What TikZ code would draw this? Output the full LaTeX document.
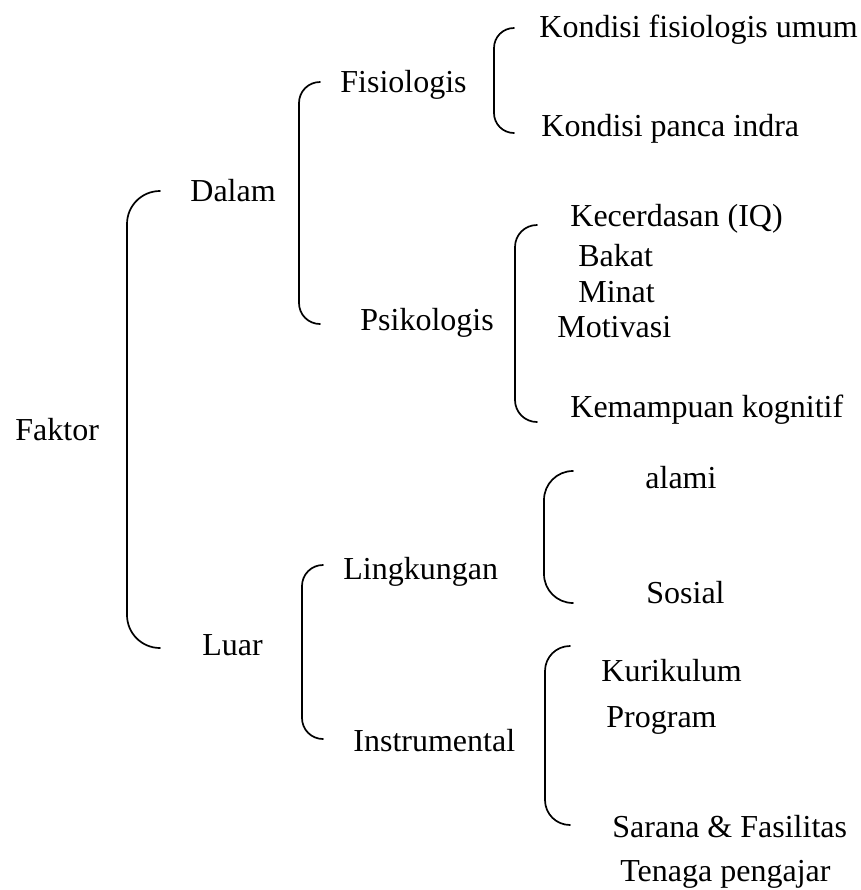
\documentclass[tikz,border=0pt]{standalone}
\usepackage{fontspec}
\setmainfont{Liberation Serif}

\tikzset{
  teks/.style={anchor=base west, inner sep=0pt, font=\fontsize{16}{19}\selectfont},
  kurung/.style={line width=0.85pt, line cap=round}
}
% bracket: x of line, y of top tip, y of bottom tip, x of tips
\newcommand{\kurung}[4]{%
  \draw[kurung] (#4,-#2) to[out=180,in=90] ({#1},{-#2-(#4-#1)}) -- ({#1},{-#3+(#4-#1)}) to[out=-90,in=180] (#4,-#3);}

\begin{document}
\begin{tikzpicture}[x=0.5pt, y=0.5pt]
\useasboundingbox (0,0) rectangle (861,-890);
\node[teks] (faktor) at (15,-440) {Faktor};
\node[teks] (dalam) at (190,-201) {Dalam};
\node[teks] (luar) at (202,-655) {Luar};
\node[teks] (fisio) at (340,-92) {Fisiologis};
\node[teks] (psiko) at (360,-330) {Psikologis};
\node[teks] (umum) at (539,-37) {Kondisi fisiologis umum};
\node[teks] (indra) at (541,-136) {Kondisi panca indra};
\node[teks] (iq) at (570,-226) {Kecerdasan (IQ)};
\node[teks] (bakat) at (578,-266) {Bakat};
\node[teks] (minat) at (578,-302) {Minat};
\node[teks] (motivasi) at (557,-337) {Motivasi};
\node[teks] (kognitif) at (570,-417) {Kemampuan kognitif};
\node[teks] (lingkungan) at (343,-579) {Lingkungan};
\node[teks] (instrumental) at (353,-751) {Instrumental};
\node[teks] (alami) at (645,-488) {alami};
\node[teks] (sosial) at (646,-603) {Sosial};
\node[teks] (kurikulum) at (601,-681) {Kurikulum};
\node[teks] (program) at (606,-727) {Program};
\node[teks] (sarana) at (612,-837) {Sarana \& Fasilitas};
\node[teks] (tenaga) at (620,-881) {Tenaga pengajar};
% brackets
\kurung{127}{191}{648}{160}
\kurung{299}{82}{324}{320}
\kurung{494}{28}{133}{514}
\kurung{515}{225}{422}{537}
\kurung{544}{471}{603}{573}
\kurung{302}{565}{739}{323}
\kurung{545}{646}{825}{570}
\end{tikzpicture}
\end{document}
